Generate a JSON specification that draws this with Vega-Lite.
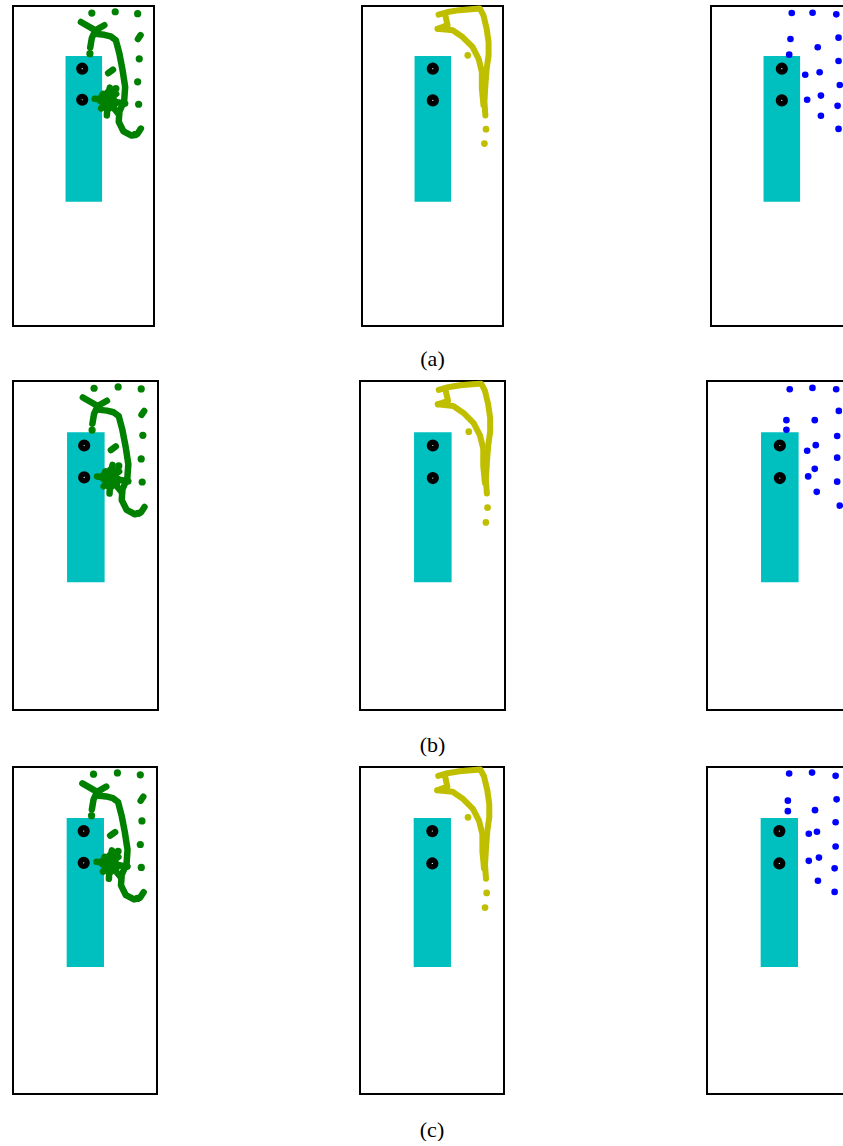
{
  "$schema": "https://vega.github.io/schema/vega-lite/v6.json",
  "background": "white",
  "padding": {"left": 12, "top": 4, "right": 0, "bottom": 0},
  "config": {
    "view": {"stroke": "black", "strokeWidth": 2},
    "title": {"font": "Liberation Serif", "fontSize": 22, "fontWeight": "normal", "color": "black"}
  },
  "datasets": {
    "room": [{"x": 1.64, "x2": 2.78, "y": 1.56, "y2": 6.12}],
    "sensors": [
      {"c": 1, "x": 2.16, "y": 1.96}, {"c": 1, "x": 2.16, "y": 2.93},
      {"c": 2, "x": 2.21, "y": 1.96}, {"c": 2, "x": 2.21, "y": 2.95}
    ],
    "gl": [
      {"seg": 1, "x": 2.12, "y": 0.50}, {"seg": 1, "x": 2.57, "y": 0.76}, {"seg": 1, "x": 2.85, "y": 0.60},
      {"seg": 2, "x": 2.57, "y": 0.76}, {"seg": 2, "x": 2.46, "y": 1.00}, {"seg": 2, "x": 2.43, "y": 1.18}, {"seg": 2, "x": 2.41, "y": 1.30},
      {"seg": 3, "x": 2.57, "y": 0.87}, {"seg": 3, "x": 2.85, "y": 0.90}, {"seg": 3, "x": 3.05, "y": 0.95}, {"seg": 3, "x": 3.21, "y": 1.07},
      {"seg": 3, "x": 3.32, "y": 1.49}, {"seg": 3, "x": 3.42, "y": 2.01}, {"seg": 3, "x": 3.50, "y": 2.53}, {"seg": 3, "x": 3.47, "y": 2.95},
      {"seg": 3, "x": 3.32, "y": 3.30}, {"seg": 3, "x": 3.30, "y": 3.62}, {"seg": 3, "x": 3.45, "y": 3.92}, {"seg": 3, "x": 3.70, "y": 4.05},
      {"seg": 3, "x": 3.88, "y": 4.00}, {"seg": 3, "x": 3.99, "y": 3.83},
      {"seg": 4, "x": 2.55, "y": 2.90}, {"seg": 4, "x": 2.95, "y": 2.95}, {"seg": 4, "x": 3.50, "y": 3.05},
      {"seg": 5, "x": 3.02, "y": 2.55}, {"seg": 5, "x": 2.95, "y": 2.95}, {"seg": 5, "x": 2.93, "y": 3.42},
      {"seg": 6, "x": 2.75, "y": 3.20}, {"seg": 6, "x": 2.95, "y": 2.95}, {"seg": 6, "x": 3.22, "y": 2.75},
      {"seg": 7, "x": 2.80, "y": 2.75}, {"seg": 7, "x": 2.95, "y": 2.95}, {"seg": 7, "x": 3.30, "y": 3.38},
      {"seg": 8, "x": 2.97, "y": 2.10}, {"seg": 8, "x": 3.12, "y": 1.99},
      {"seg": 9, "x": 3.90, "y": 1.03}, {"seg": 9, "x": 3.98, "y": 0.91}
    ],
    "gblob": [{"x": 2.95, "y": 2.95}, {"x": 2.78, "y": 2.92}, {"x": 3.12, "y": 3.02}, {"x": 2.95, "y": 3.15}, {"x": 3.0, "y": 2.75}],
    "gd": [
      {"x": 2.46, "y": 0.22}, {"x": 3.19, "y": 0.18}, {"x": 3.89, "y": 0.24},
      {"x": 3.94, "y": 1.65}, {"x": 3.89, "y": 2.37}, {"x": 3.92, "y": 3.07}, {"x": 3.21, "y": 2.58},
      {"x": 2.40, "y": 1.49}, {"x": 3.80, "y": 4.02}
    ],
    "yl": [
      {"seg": 1, "x": 2.39, "y": 0.27}, {"seg": 1, "x": 2.67, "y": 0.19}, {"seg": 1, "x": 3.04, "y": 0.13}, {"seg": 1, "x": 3.40, "y": 0.10},
      {"seg": 1, "x": 3.68, "y": 0.08}, {"seg": 1, "x": 3.79, "y": 0.29}, {"seg": 1, "x": 3.89, "y": 0.71}, {"seg": 1, "x": 3.95, "y": 1.13},
      {"seg": 1, "x": 3.95, "y": 1.54}, {"seg": 1, "x": 3.89, "y": 1.96}, {"seg": 1, "x": 3.85, "y": 2.48}, {"seg": 1, "x": 3.82, "y": 3.00},
      {"seg": 1, "x": 3.85, "y": 3.42},
      {"seg": 2, "x": 2.60, "y": 0.29}, {"seg": 2, "x": 2.67, "y": 0.60}, {"seg": 2, "x": 2.36, "y": 0.71},
      {"seg": 3, "x": 2.36, "y": 0.71}, {"seg": 3, "x": 2.83, "y": 0.76}, {"seg": 3, "x": 3.14, "y": 0.97}, {"seg": 3, "x": 3.45, "y": 1.28},
      {"seg": 3, "x": 3.64, "y": 1.65}, {"seg": 3, "x": 3.74, "y": 2.06}, {"seg": 3, "x": 3.74, "y": 2.58}, {"seg": 3, "x": 3.79, "y": 3.10}
    ],
    "yd": [{"x": 3.30, "y": 1.54}, {"x": 3.87, "y": 3.85}, {"x": 3.82, "y": 4.30}],
    "bA": [
      {"x": 2.52, "y": 0.22}, {"x": 3.17, "y": 0.21}, {"x": 3.91, "y": 0.26}, {"x": 2.48, "y": 1.03},
      {"x": 3.33, "y": 1.29}, {"x": 3.98, "y": 0.99}, {"x": 2.44, "y": 1.52}, {"x": 3.98, "y": 1.72},
      {"x": 2.94, "y": 2.15}, {"x": 3.39, "y": 2.07}, {"x": 4.02, "y": 2.47}, {"x": 3.00, "y": 2.93},
      {"x": 3.43, "y": 2.80}, {"x": 3.95, "y": 3.12}, {"x": 3.43, "y": 3.43}, {"x": 3.98, "y": 3.84}
    ],
    "bB": [
      {"x": 2.51, "y": 0.25}, {"x": 3.20, "y": 0.21}, {"x": 3.92, "y": 0.25}, {"x": 4.00, "y": 0.91},
      {"x": 2.41, "y": 1.19}, {"x": 3.27, "y": 1.19}, {"x": 2.41, "y": 1.48}, {"x": 3.95, "y": 1.67},
      {"x": 3.30, "y": 1.95}, {"x": 3.04, "y": 2.12}, {"x": 3.95, "y": 2.33}, {"x": 3.27, "y": 2.67},
      {"x": 3.07, "y": 2.90}, {"x": 3.95, "y": 3.06}, {"x": 3.33, "y": 3.37}, {"x": 4.03, "y": 3.79}
    ],
    "bC": [
      {"x": 2.51, "y": 0.20}, {"x": 3.21, "y": 0.17}, {"x": 3.93, "y": 0.27}, {"x": 2.47, "y": 1.03},
      {"x": 3.96, "y": 0.99}, {"x": 3.30, "y": 1.32}, {"x": 2.47, "y": 1.35}, {"x": 3.93, "y": 1.69},
      {"x": 3.36, "y": 1.98}, {"x": 3.11, "y": 2.04}, {"x": 3.93, "y": 2.43}, {"x": 3.42, "y": 2.77},
      {"x": 3.11, "y": 2.87}, {"x": 3.90, "y": 3.10}, {"x": 3.39, "y": 3.48}, {"x": 3.90, "y": 3.82}
    ]
  },
  "spacing": 9,
  "vconcat": [
    {
      "bounds": "flush",
      "spacing": 208,
      "title": {"text": "(a)", "orient": "bottom", "anchor": "middle", "offset": 22},
      "hconcat": [
        {"width": 141, "height": 320,
         "encoding": {"x": {"field": "x", "type": "quantitative", "scale": {"domain": [0, 4.4], "nice": false, "zero": false}, "axis": null},
                      "y": {"field": "y", "type": "quantitative", "scale": {"domain": [0, 10], "nice": false, "zero": false, "reverse": true}, "axis": null}},
         "layer": [
           {"data": {"name": "room"}, "mark": {"type": "rect", "color": "#00bfbf"}, "encoding": {"x2": {"field": "x2"}, "y2": {"field": "y2"}}},
           {"data": {"name": "gl"}, "mark": {"type": "line", "color": "#008000", "strokeWidth": 6.5, "strokeCap": "round", "strokeJoin": "round"}, "encoding": {"detail": {"field": "seg"}, "order": {"value": null}}},
           {"data": {"name": "gblob"}, "mark": {"type": "circle", "color": "#008000", "size": 130, "opacity": 1}},
           {"data": {"name": "gd"}, "mark": {"type": "circle", "color": "#008000", "size": 52, "opacity": 1}},
           {"data": {"name": "sensors"}, "transform": [{"filter": "datum.c == 1"}], "mark": {"type": "circle", "fill": "white", "stroke": "black", "strokeWidth": 5.5, "size": 45, "opacity": 1}}
         ]},
        {"width": 141, "height": 320,
         "encoding": {"x": {"field": "x", "type": "quantitative", "scale": {"domain": [0, 4.4], "nice": false, "zero": false}, "axis": null},
                      "y": {"field": "y", "type": "quantitative", "scale": {"domain": [0, 10], "nice": false, "zero": false, "reverse": true}, "axis": null}},
         "layer": [
           {"data": {"name": "room"}, "mark": {"type": "rect", "color": "#00bfbf"}, "encoding": {"x2": {"field": "x2"}, "y2": {"field": "y2"}}},
           {"data": {"name": "yl"}, "mark": {"type": "line", "color": "#bfbf00", "strokeWidth": 6, "strokeCap": "round", "strokeJoin": "round"}, "encoding": {"detail": {"field": "seg"}, "order": {"value": null}}},
           {"data": {"name": "yd"}, "mark": {"type": "circle", "color": "#bfbf00", "size": 45, "opacity": 1}},
           {"data": {"name": "sensors"}, "transform": [{"filter": "datum.c == 2"}], "mark": {"type": "circle", "fill": "white", "stroke": "black", "strokeWidth": 5.5, "size": 45, "opacity": 1}}
         ]},
        {"width": 141, "height": 320,
         "encoding": {"x": {"field": "x", "type": "quantitative", "scale": {"domain": [0, 4.4], "nice": false, "zero": false}, "axis": null},
                      "y": {"field": "y", "type": "quantitative", "scale": {"domain": [0, 10], "nice": false, "zero": false, "reverse": true}, "axis": null}},
         "layer": [
           {"data": {"name": "room"}, "mark": {"type": "rect", "color": "#00bfbf"}, "encoding": {"x2": {"field": "x2"}, "y2": {"field": "y2"}}},
           {"data": {"name": "bA"}, "mark": {"type": "circle", "color": "#0000ff", "size": 44, "opacity": 1}},
           {"data": {"name": "sensors"}, "transform": [{"filter": "datum.c == 2"}], "mark": {"type": "circle", "fill": "white", "stroke": "black", "strokeWidth": 5.5, "size": 45, "opacity": 1}}
         ]}
      ]
    },
    {
      "bounds": "flush",
      "spacing": 202,
      "title": {"text": "(b)", "orient": "bottom", "anchor": "middle", "offset": 24},
      "hconcat": [
        {"width": 145, "height": 329,
         "encoding": {"x": {"field": "x", "type": "quantitative", "scale": {"domain": [0, 4.4], "nice": false, "zero": false}, "axis": null},
                      "y": {"field": "y", "type": "quantitative", "scale": {"domain": [0, 10], "nice": false, "zero": false, "reverse": true}, "axis": null}},
         "layer": [
           {"data": {"name": "room"}, "mark": {"type": "rect", "color": "#00bfbf"}, "encoding": {"x2": {"field": "x2"}, "y2": {"field": "y2"}}},
           {"data": {"name": "gl"}, "mark": {"type": "line", "color": "#008000", "strokeWidth": 6.5, "strokeCap": "round", "strokeJoin": "round"}, "encoding": {"detail": {"field": "seg"}, "order": {"value": null}}},
           {"data": {"name": "gblob"}, "mark": {"type": "circle", "color": "#008000", "size": 130, "opacity": 1}},
           {"data": {"name": "gd"}, "mark": {"type": "circle", "color": "#008000", "size": 52, "opacity": 1}},
           {"data": {"name": "sensors"}, "transform": [{"filter": "datum.c == 1"}], "mark": {"type": "circle", "fill": "white", "stroke": "black", "strokeWidth": 5.5, "size": 45, "opacity": 1}}
         ]},
        {"width": 145, "height": 329,
         "encoding": {"x": {"field": "x", "type": "quantitative", "scale": {"domain": [0, 4.4], "nice": false, "zero": false}, "axis": null},
                      "y": {"field": "y", "type": "quantitative", "scale": {"domain": [0, 10], "nice": false, "zero": false, "reverse": true}, "axis": null}},
         "layer": [
           {"data": {"name": "room"}, "mark": {"type": "rect", "color": "#00bfbf"}, "encoding": {"x2": {"field": "x2"}, "y2": {"field": "y2"}}},
           {"data": {"name": "yl"}, "mark": {"type": "line", "color": "#bfbf00", "strokeWidth": 6, "strokeCap": "round", "strokeJoin": "round"}, "encoding": {"detail": {"field": "seg"}, "order": {"value": null}}},
           {"data": {"name": "yd"}, "mark": {"type": "circle", "color": "#bfbf00", "size": 45, "opacity": 1}},
           {"data": {"name": "sensors"}, "transform": [{"filter": "datum.c == 2"}], "mark": {"type": "circle", "fill": "white", "stroke": "black", "strokeWidth": 5.5, "size": 45, "opacity": 1}}
         ]},
        {"width": 145, "height": 329,
         "encoding": {"x": {"field": "x", "type": "quantitative", "scale": {"domain": [0, 4.4], "nice": false, "zero": false}, "axis": null},
                      "y": {"field": "y", "type": "quantitative", "scale": {"domain": [0, 10], "nice": false, "zero": false, "reverse": true}, "axis": null}},
         "layer": [
           {"data": {"name": "room"}, "mark": {"type": "rect", "color": "#00bfbf"}, "encoding": {"x2": {"field": "x2"}, "y2": {"field": "y2"}}},
           {"data": {"name": "bB"}, "mark": {"type": "circle", "color": "#0000ff", "size": 44, "opacity": 1}},
           {"data": {"name": "sensors"}, "transform": [{"filter": "datum.c == 2"}], "mark": {"type": "circle", "fill": "white", "stroke": "black", "strokeWidth": 5.5, "size": 45, "opacity": 1}}
         ]}
      ]
    },
    {
      "bounds": "flush",
      "spacing": 203,
      "title": {"text": "(c)", "orient": "bottom", "anchor": "middle", "offset": 25},
      "hconcat": [
        {"width": 144, "height": 327,
         "encoding": {"x": {"field": "x", "type": "quantitative", "scale": {"domain": [0, 4.4], "nice": false, "zero": false}, "axis": null},
                      "y": {"field": "y", "type": "quantitative", "scale": {"domain": [0, 10], "nice": false, "zero": false, "reverse": true}, "axis": null}},
         "layer": [
           {"data": {"name": "room"}, "mark": {"type": "rect", "color": "#00bfbf"}, "encoding": {"x2": {"field": "x2"}, "y2": {"field": "y2"}}},
           {"data": {"name": "gl"}, "mark": {"type": "line", "color": "#008000", "strokeWidth": 6.5, "strokeCap": "round", "strokeJoin": "round"}, "encoding": {"detail": {"field": "seg"}, "order": {"value": null}}},
           {"data": {"name": "gblob"}, "mark": {"type": "circle", "color": "#008000", "size": 130, "opacity": 1}},
           {"data": {"name": "gd"}, "mark": {"type": "circle", "color": "#008000", "size": 52, "opacity": 1}},
           {"data": {"name": "sensors"}, "transform": [{"filter": "datum.c == 1"}], "mark": {"type": "circle", "fill": "white", "stroke": "black", "strokeWidth": 5.5, "size": 45, "opacity": 1}}
         ]},
        {"width": 144, "height": 327,
         "encoding": {"x": {"field": "x", "type": "quantitative", "scale": {"domain": [0, 4.4], "nice": false, "zero": false}, "axis": null},
                      "y": {"field": "y", "type": "quantitative", "scale": {"domain": [0, 10], "nice": false, "zero": false, "reverse": true}, "axis": null}},
         "layer": [
           {"data": {"name": "room"}, "mark": {"type": "rect", "color": "#00bfbf"}, "encoding": {"x2": {"field": "x2"}, "y2": {"field": "y2"}}},
           {"data": {"name": "yl"}, "mark": {"type": "line", "color": "#bfbf00", "strokeWidth": 6, "strokeCap": "round", "strokeJoin": "round"}, "encoding": {"detail": {"field": "seg"}, "order": {"value": null}}},
           {"data": {"name": "yd"}, "mark": {"type": "circle", "color": "#bfbf00", "size": 45, "opacity": 1}},
           {"data": {"name": "sensors"}, "transform": [{"filter": "datum.c == 2"}], "mark": {"type": "circle", "fill": "white", "stroke": "black", "strokeWidth": 5.5, "size": 45, "opacity": 1}}
         ]},
        {"width": 144, "height": 327,
         "encoding": {"x": {"field": "x", "type": "quantitative", "scale": {"domain": [0, 4.4], "nice": false, "zero": false}, "axis": null},
                      "y": {"field": "y", "type": "quantitative", "scale": {"domain": [0, 10], "nice": false, "zero": false, "reverse": true}, "axis": null}},
         "layer": [
           {"data": {"name": "room"}, "mark": {"type": "rect", "color": "#00bfbf"}, "encoding": {"x2": {"field": "x2"}, "y2": {"field": "y2"}}},
           {"data": {"name": "bC"}, "mark": {"type": "circle", "color": "#0000ff", "size": 44, "opacity": 1}},
           {"data": {"name": "sensors"}, "transform": [{"filter": "datum.c == 2"}], "mark": {"type": "circle", "fill": "white", "stroke": "black", "strokeWidth": 5.5, "size": 45, "opacity": 1}}
         ]}
      ]
    }
  ]
}
